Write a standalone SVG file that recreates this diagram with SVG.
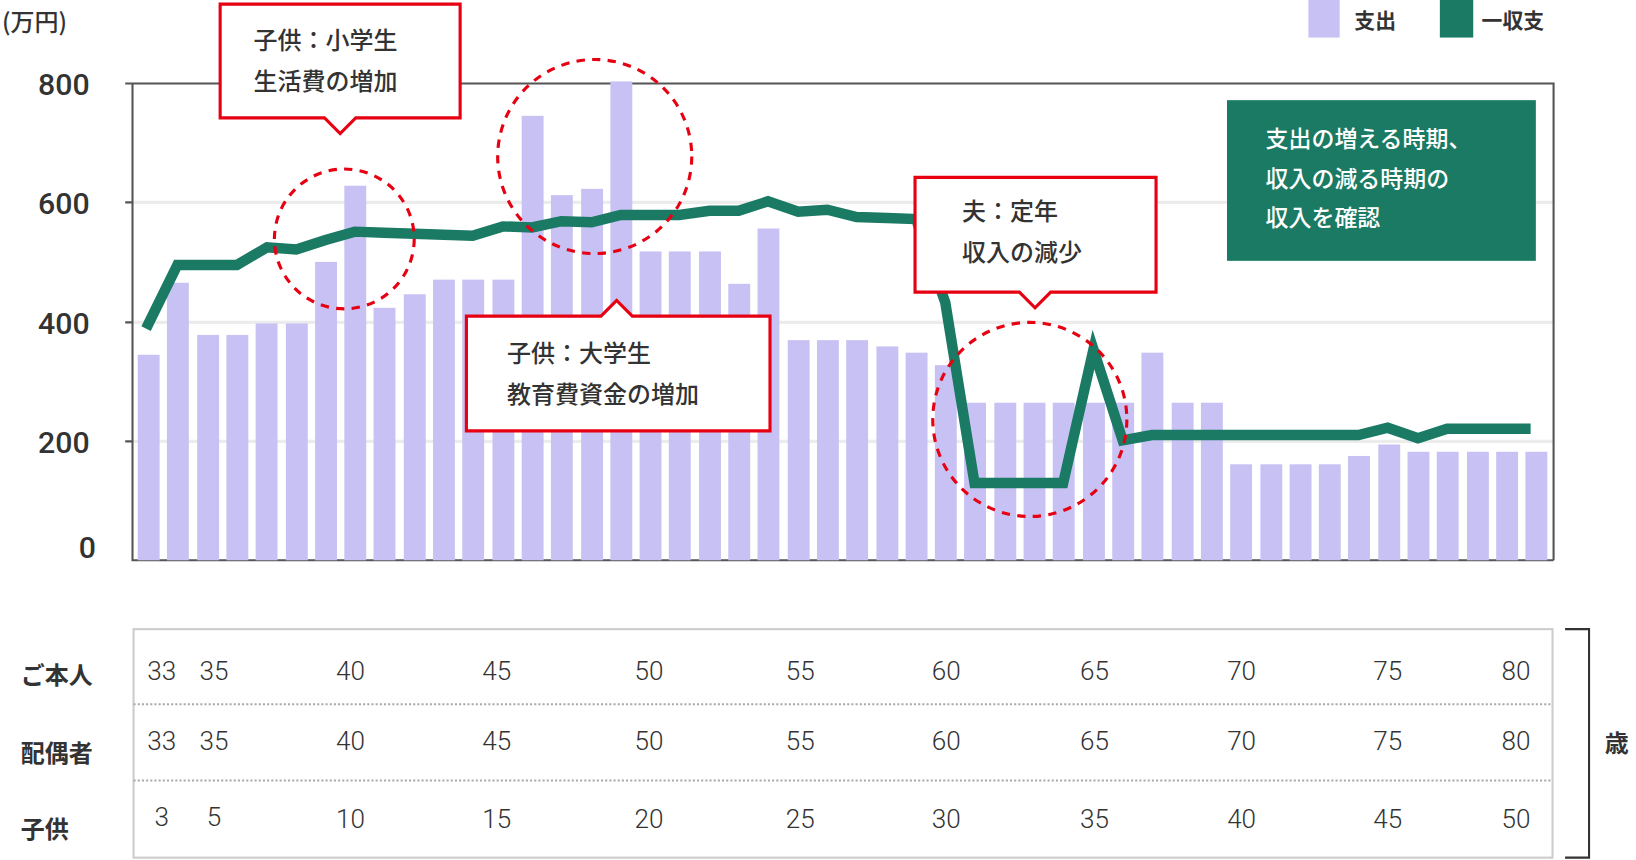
<svg xmlns="http://www.w3.org/2000/svg" width="1636" height="860" viewBox="0 0 1636 860">
<style>
text{font-family:"Noto Sans CJK JP","Noto Sans",sans-serif;fill:#333}
.ax{font-family:Roboto,"Noto Sans",sans-serif;font-size:29px;font-weight:500;text-anchor:end}
.num{font-family:Roboto,"Noto Sans",sans-serif;font-size:25px;font-weight:300;text-anchor:middle}
.lab{font-size:23px;font-weight:700}
.cl{font-size:23px;font-weight:500}
.bar{fill:#c8c2f4}
.grid{stroke:#ececec;stroke-width:3}
.call{fill:#fff;stroke:#e60012;stroke-width:3}
.ring{fill:none;stroke:#e60012;stroke-width:3;stroke-dasharray:8 7}
</style>
<rect width="1636" height="860" fill="#fff"/>
<g transform="scale(1.04337)">
<g id="axes">
<line class="grid" x1="127" y1="194" x2="1489" y2="194"/>
<line class="grid" x1="127" y1="309" x2="1489" y2="309"/>
<line class="grid" x1="127" y1="423" x2="1489" y2="423"/>
<path d="M120 80H1489V537M127 80V537H1489M120 194H127M120 309H127M120 423H127" fill="none" stroke="#555" stroke-width="2"/>
<text x="2" y="30" style="font-size:23px;font-weight:500">(万円)</text>
<text class="ax" x="86" y="91">800</text>
<text class="ax" x="86" y="205">600</text>
<text class="ax" x="86" y="320">400</text>
<text class="ax" x="86" y="434">200</text>
<text class="ax" x="92" y="535">0</text>
</g>
<g id="bars">
<rect class="bar" x="132" y="340" width="21" height="197"/>
<rect class="bar" x="160" y="271" width="21" height="266"/>
<rect class="bar" x="189" y="321" width="21" height="216"/>
<rect class="bar" x="217" y="321" width="21" height="216"/>
<rect class="bar" x="245" y="310" width="21" height="227"/>
<rect class="bar" x="274" y="310" width="21" height="227"/>
<rect class="bar" x="302" y="251" width="21" height="286"/>
<rect class="bar" x="330" y="178" width="21" height="359"/>
<rect class="bar" x="358" y="295" width="21" height="242"/>
<rect class="bar" x="387" y="282" width="21" height="255"/>
<rect class="bar" x="415" y="268" width="21" height="269"/>
<rect class="bar" x="443" y="268" width="21" height="269"/>
<rect class="bar" x="472" y="268" width="21" height="269"/>
<rect class="bar" x="500" y="111" width="21" height="426"/>
<rect class="bar" x="528" y="187" width="21" height="350"/>
<rect class="bar" x="557" y="181" width="21" height="356"/>
<rect class="bar" x="585" y="78" width="21" height="459"/>
<rect class="bar" x="613" y="241" width="21" height="296"/>
<rect class="bar" x="641" y="241" width="21" height="296"/>
<rect class="bar" x="670" y="241" width="21" height="296"/>
<rect class="bar" x="698" y="272" width="21" height="265"/>
<rect class="bar" x="726" y="219" width="21" height="318"/>
<rect class="bar" x="755" y="326" width="21" height="211"/>
<rect class="bar" x="783" y="326" width="21" height="211"/>
<rect class="bar" x="811" y="326" width="21" height="211"/>
<rect class="bar" x="840" y="332" width="21" height="205"/>
<rect class="bar" x="868" y="338" width="21" height="199"/>
<rect class="bar" x="896" y="350" width="21" height="187"/>
<rect class="bar" x="924" y="386" width="21" height="151"/>
<rect class="bar" x="953" y="386" width="21" height="151"/>
<rect class="bar" x="981" y="386" width="21" height="151"/>
<rect class="bar" x="1009" y="386" width="21" height="151"/>
<rect class="bar" x="1038" y="386" width="21" height="151"/>
<rect class="bar" x="1066" y="386" width="21" height="151"/>
<rect class="bar" x="1094" y="338" width="21" height="199"/>
<rect class="bar" x="1123" y="386" width="21" height="151"/>
<rect class="bar" x="1151" y="386" width="21" height="151"/>
<rect class="bar" x="1179" y="445" width="21" height="92"/>
<rect class="bar" x="1208" y="445" width="21" height="92"/>
<rect class="bar" x="1236" y="445" width="21" height="92"/>
<rect class="bar" x="1264" y="445" width="21" height="92"/>
<rect class="bar" x="1292" y="437" width="21" height="100"/>
<rect class="bar" x="1321" y="426" width="21" height="111"/>
<rect class="bar" x="1349" y="433" width="21" height="104"/>
<rect class="bar" x="1377" y="433" width="21" height="104"/>
<rect class="bar" x="1406" y="433" width="21" height="104"/>
<rect class="bar" x="1434" y="433" width="21" height="104"/>
<rect class="bar" x="1462" y="433" width="21" height="104"/>
</g>
<g id="connectors">
<polyline fill="none" stroke="#1a7a63" stroke-width="10" stroke-linejoin="miter" points="140,315 170,254 199,254 227,254 256,237 284,239 312,230 340,222 368,223 397,224 425,225 453,226 482,217 510,218 538,212 567,213 595,206 623,206 651,206 680,202 708,202 736,193 765,203 793,201 821,208 850,209 878,210 906,290 934,463 963,463 991,463 1019,463 1048,335 1076,422 1104,417 1133,417 1161,417 1189,417 1217,417 1246,417 1274,417 1302,417 1330,410 1359,420 1387,411 1415,411 1443,411 1467,411"/>
<ellipse class="ring" cx="330" cy="229" rx="67" ry="67"/>
<ellipse class="ring" cx="570" cy="150" rx="93" ry="93"/>
<ellipse class="ring" cx="987" cy="402" rx="93" ry="93"/>
</g>
<g id="callout-elementary">
<path class="call" d="M211 4H441V113H341L326 128L311 113H211Z"/>
<text class="cl" x="243" y="47">子供：小学生</text>
<text class="cl" x="243" y="86">生活費の増加</text>
</g>
<g id="callout-university">
<path class="call" d="M447 303H576L591 288L606 303H738V413H447Z"/>
<text class="cl" x="486" y="347">子供：大学生</text>
<text class="cl" x="486" y="386">教育費資金の増加</text>
</g>
<g id="callout-retire">
<path class="call" d="M877 170H1108V280H1007L992 295L977 280H877Z"/>
<text class="cl" x="922" y="211">夫：定年</text>
<text class="cl" x="922" y="250">収入の減少</text>
</g>
<g id="note">
<rect x="1176" y="96" width="296" height="154" fill="#1a7a63"/>
<text x="1213" y="141" style="font-size:22px;font-weight:500;fill:#fff">支出の増える時期、</text>
<text x="1213" y="179" style="font-size:22px;font-weight:500;fill:#fff">収入の減る時期の</text>
<text x="1213" y="217" style="font-size:22px;font-weight:500;fill:#fff">収入を確認</text>
</g>
<g id="legend">
<rect x="1254" y="0" width="30" height="36" fill="#c8c2f4"/>
<text x="1298" y="27" style="font-size:20px;font-weight:700">支出</text>
<rect x="1380" y="0" width="32" height="36" fill="#1a7a63"/>
<text x="1420" y="27" style="font-size:20px;font-weight:700">一収支</text>
</g>
<g id="table">
<rect x="128" y="603" width="1360" height="219" fill="none" stroke="#ccc" stroke-width="2"/>
<path d="M128 675H1488M128 748H1488" stroke="#aaa" stroke-width="2" stroke-dasharray="2 2"/>
<path d="M1500 603H1523V822H1500" fill="none" stroke="#333" stroke-width="2"/>
<text class="lab" x="20" y="656">ご本人</text>
<text class="lab" x="20" y="730">配偶者</text>
<text class="lab" x="20" y="803">子供</text>
<text class="lab" x="1538" y="721">歳</text>
<g class="num">
<text class="num" x="155" y="652">33</text><text class="num" x="205" y="652">35</text><text class="num" x="336" y="652">40</text><text class="num" x="476" y="652">45</text><text class="num" x="622" y="652">50</text><text class="num" x="767" y="652">55</text><text class="num" x="907" y="652">60</text><text class="num" x="1049" y="652">65</text><text class="num" x="1190" y="652">70</text><text class="num" x="1330" y="652">75</text><text class="num" x="1453" y="652">80</text>
<text class="num" x="155" y="719">33</text><text class="num" x="205" y="719">35</text><text class="num" x="336" y="719">40</text><text class="num" x="476" y="719">45</text><text class="num" x="622" y="719">50</text><text class="num" x="767" y="719">55</text><text class="num" x="907" y="719">60</text><text class="num" x="1049" y="719">65</text><text class="num" x="1190" y="719">70</text><text class="num" x="1330" y="719">75</text><text class="num" x="1453" y="719">80</text>
<text class="num" x="155" y="792">3</text><text class="num" x="205" y="792">5</text><text class="num" x="336" y="794">10</text><text class="num" x="476" y="794">15</text><text class="num" x="622" y="794">20</text><text class="num" x="767" y="794">25</text><text class="num" x="907" y="794">30</text><text class="num" x="1049" y="794">35</text><text class="num" x="1190" y="794">40</text><text class="num" x="1330" y="794">45</text><text class="num" x="1453" y="794">50</text>
</g>
</g>
</g>
</svg>
